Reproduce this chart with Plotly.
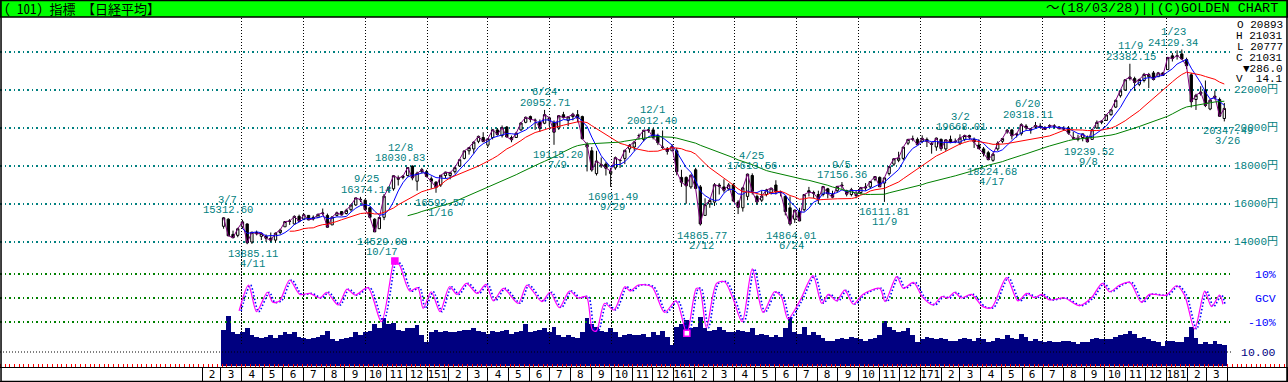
import pandas as pd
import plotly.graph_objects as go

# ======================= DATA (weekly) =======================
week_start_2014 = "2014-03-05"
open_2014 = [14826,15200,14400,14350,14800,14950,14000,14500,14300,14300,
             14200,14100,14500,14800,15100,14950,15350,15200,15400,15300,
             15300,15500,15400,14900,15400,15600,15500,15700,15950,16250,
             16200,15800,15200,14700,15300,16800,16800,17300,17400,17500,
             18000,17200,17700,17700]
high_2014 = [15312,15250,14600,14750,15170,14980,14530,14600,14500,14400,
             14500,14500,14700,15100,15200,15400,15440,15490,15420,15400,
             15490,15760,15500,15350,15600,15630,15750,15960,16330,16374,
             16250,15850,15250,15300,16530,16900,17520,17500,17520,17935,
             18030,17700,17900,17800]
low_2014 = [14700,14310,14200,14250,14700,13885,13900,14350,14100,14000,
            14000,13964,14400,14800,14900,14900,15050,15150,15150,15130,
            15300,15400,14750,14900,15350,15400,15450,15600,15900,16100,
            15650,15250,14529,14700,15150,16600,16700,16973,17300,17450,
            17250,16700,17600,17400]
close_2014 = [15274,14327,14224,14696,15063,13960,14516,14429,14457,14199,
              14096,14462,14632,15077,15097,15349,15095,15437,15164,15215,
              15457,15523,14778,15318,15539,15424,15668,15948,16321,16229,
              15708,15300,14532,15291,16413,16880,17490,17357,17459,17920,
              17371,17621,17818,17450]
volume_2014 = [26,36,24,23,24,27,22,21,20,21,
               22,20,22,24,23,24,21,20,19,20,
               21,22,25,19,18,19,20,21,24,22,
               24,25,30,27,34,30,31,26,25,27,
               27,29,22,17]

week_start_2015 = "2015-01-07"
open_2015 = [17325,17150,17000,17500,17500,17700,18000,18400,18800,18900,
             19300,19500,19100,19500,19900,19600,20050,19500,19500,19900,
             20300,20600,20400,20300,20250,20400,20300,20000,20700,20400,
             20600,20700,20600,19000,18800,17600,18000,18100,17600,17900,
             18300,18400,18900,19000,19600,19400,19900,19900,19600,19000,
             18900,18800]
high_2015 = [17450,17200,17520,17700,17700,17980,18350,18800,18980,19300,
             19600,19780,19450,19950,20000,20133,20100,19600,19800,20300,
             20600,20655,20500,20450,20952,20600,20400,20680,20850,20600,
             20800,20946,20650,19250,19000,18800,18450,18200,17900,18500,
             18350,18850,19150,19300,19700,19900,19950,20012,19700,19870,
             19000,19150]
low_2015 = [16808,16592,16900,17350,17300,17600,17950,18350,18600,18650,
            19200,19250,19000,19400,19600,19500,19500,19250,19500,19850,
            20250,20300,19900,19800,20200,20100,19115,19900,20500,20100,
            20400,20300,19400,17714,17700,17500,17900,17500,16901,17800,
            17900,18100,18700,18800,19400,19300,19750,19400,19100,18900,
            18600,18800]
close_2015 = [17197,16864,17511,17674,17648,17913,18332,18797,18971,19254,
              19560,19286,19435,19908,19653,20020,19531,19379,19733,20264,
              20563,20461,20407,19990,20706,20539,19780,20650,20544,20585,
              20724,20519,19435,19136,17792,18264,18070,17880,17725,18438,
              18291,18825,19083,19265,19597,19879,19883,19504,19230,18986,
              18769,19033]
volume_2015 = [24,26,24,25,24,24,25,26,26,27,
               25,24,23,25,24,25,26,23,24,25,
               30,24,25,26,27,24,28,22,21,22,
               21,20,24,34,30,28,25,24,27,24,
               21,22,23,22,22,23,21,24,22,25,
               21,15]

week_start_2016 = "2016-01-06"
open_2016 = [18800,17400,17400,16900,17800,16900,15400,16000,16100,17000,
             16900,16800,17000,16100,15800,16400,17500,16400,16200,16500,
             16600,17000,16600,16400,15800,15200,15600,15700,16700,16600,
             16500,16500,16800,16500,16700,17000,16700,16500,16500,16600,
             16900,16900,17300,17400,17100,17600,18100,18300,18400,19200,
             19400,19400]
high_2016 = [18950,17800,17450,17550,17900,17000,16300,16250,17100,17100,
             17300,17100,17100,16200,16900,17600,17613,16500,16700,16800,
             16850,17250,16700,16450,16400,15700,15800,16500,16900,16700,
             16700,16950,16850,16700,16950,17156,16750,16850,16700,16900,
             17100,17200,17450,17450,17400,17990,18400,18750,19000,19400,
             19600,19500]
low_2016 = [17509,16900,16017,16800,16800,14865,15400,15800,15900,16500,
            16600,16700,16100,15471,15600,16200,16500,15975,16100,16400,
            16500,16500,16400,15400,14864,15000,15100,15600,16400,16300,
            16000,16400,16300,16300,16600,16800,16400,16400,16300,16500,
            16700,16800,17200,16900,16111,17500,18000,18200,18300,19100,
            19300,19100]
close_2016 = [17697,17147,16958,17518,16819,14952,15967,16188,17014,16938,
              16724,17002,16164,15821,16848,17572,16666,16106,16412,16736,
              16834,16642,16601,15599,14952,15682,15106,16497,16627,16569,
              16254,16919,16545,16360,16925,16965,16519,16754,16450,16860,
              16856,17184,17446,16905,17374,17967,18381,18426,18996,19401,
              19427,19114]
volume_2016 = [28,30,33,27,28,35,27,25,26,28,
               26,24,24,26,25,24,27,22,23,22,
               21,22,21,27,35,24,23,28,22,24,
               22,20,18,18,19,20,19,21,20,19,
               18,19,20,22,32,28,26,24,25,27,
               22,17]

week_start_2017 = "2017-01-04"
open_2017 = [19300,19400,19200,19000,19400,18900,19400,19300,19200,19400,
             19600,19400,19100,18900,18700,18300,18900,19300,19800,19900,
             19650,19700,20100,19900,20050,20100,20000,20100,20100,20050,
             19950,20000,19500,19400,19500,19500,19400,20000,20300,20400,
             20700,21100,21700,22000,22600,22600,22300,22500,22700,22900,
             22700,22900]
high_2017 = [19615,19500,19250,19500,19450,19400,19600,19450,19668,19650,
             19650,19500,19400,19000,18800,18700,19300,19450,19950,19950,
             19750,20250,20200,20000,20318,20250,20100,20200,20200,20100,
             20100,20100,19800,19650,19700,19600,19950,20400,20400,20700,
             21000,21500,22000,22550,23382,22700,22600,22900,22900,23000,
             22950,22950]
low_2017 = [19200,19000,18650,18800,18800,18800,19200,19200,19100,19300,
            19400,18950,18900,18500,18300,18224,18800,19200,19700,19400,
            19500,19600,19900,19700,20000,20000,19900,20050,19990,19950,
            19850,19650,19400,19300,19300,19239,19400,19950,20200,20380,
            20650,21050,21600,21950,22500,21972,22200,22400,22100,22500,
            22700,22750]
close_2017 = [19454,19287,19137,19467,18918,19378,19235,19283,19469,19604,
              19521,19262,18909,18664,18335,18620,19197,19445,19883,19590,
              19686,20177,20013,19943,20132,20033,19929,20118,20099,19959,
              19952,19729,19470,19452,19691,19274,19909,20296,20356,20690,
              20954,21457,21955,22539,22681,22397,22551,22819,22811,22553,
              22902,22765]
volume_2017 = [19,21,20,19,20,19,18,18,19,20,
               19,18,20,19,17,18,20,19,22,20,
               19,23,21,18,19,18,17,18,17,17,
               18,18,17,16,17,17,19,20,19,19,
               19,21,22,23,25,23,20,21,19,18,
               17,14]

week_start_2018 = "2018-01-03"
open_2018 = [23073,23800,23800,23900,23600,22800,21500,21800,22000,21000,21600,21500,20500]
high_2018 = [23730,23950,24084,24129,23700,22900,21800,22200,22500,21500,21970,21600,21317]
low_2018 = [23073,23500,23600,23600,23100,21078,20950,21700,21100,20937,21500,20600,20347]
close_2018 = [23715,23653,23808,23632,23275,21383,21720,21892,21182,21469,21676,20618,21031]
volume_2018 = [18,18,17,17,21,28,20,16,17,16,18,16,15]

# GCV oscillator (%)
gcv_dates = ["2014-03-28","2014-04-11","2014-04-23","2014-05-09","2014-05-17","2014-05-27","2014-06-11","2014-06-26","2014-07-11","2014-07-26",
             "2014-08-05","2014-08-22","2014-09-04","2014-09-16","2014-10-05","2014-10-25","2014-11-11","2014-11-14","2014-11-21","2014-12-06",
             "2014-12-18","2014-12-26",
             "2015-01-07","2015-01-20","2015-02-03","2015-02-14","2015-02-28","2015-03-16","2015-03-29","2015-04-09","2015-04-24","2015-05-16",
             "2015-05-29","2015-06-20","2015-07-02","2015-07-16","2015-07-31","2015-08-13","2015-08-25","2015-09-03","2015-09-09","2015-09-21",
             "2015-10-05","2015-10-21","2015-10-29","2015-11-10","2015-11-30","2015-12-19",
             "2016-01-05","2016-01-21","2016-02-04","2016-02-09","2016-02-19","2016-03-05","2016-03-17","2016-03-29","2016-04-12","2016-04-27",
             "2016-05-13","2016-05-30","2016-06-09","2016-06-19","2016-07-06","2016-07-26","2016-08-08","2016-08-18","2016-08-30","2016-09-11",
             "2016-09-24","2016-10-08","2016-11-02","2016-11-10","2016-11-27","2016-12-07","2016-12-22",
             "2017-01-04","2017-01-20","2017-02-02","2017-02-11","2017-02-21","2017-03-03","2017-03-18","2017-04-04","2017-04-17","2017-05-09",
             "2017-05-26","2017-06-08","2017-06-20","2017-06-30","2017-07-12","2017-08-03","2017-08-25","2017-09-12","2017-09-28","2017-10-09",
             "2017-10-24","2017-11-08","2017-11-25","2017-12-07",
             "2018-01-01","2018-01-16","2018-01-28","2018-02-12","2018-02-27","2018-03-09","2018-03-21","2018-03-26"]
gcv_values = [-5.4,5.4,-5.7,2.4,-1.8,-1.2,7.5,1.5,1.9,0.0,
              2.4,-2.9,3.7,1.2,4.3,-9.9,13.7,15.4,13.7,2.9,
              4.3,-4.3,
              2.6,-5.7,4.7,1.5,6.1,1.9,5.7,-1.2,4.0,-2.2,
              5.4,-1.5,2.4,-4.0,2.9,0.0,0.6,-13.3,-13.7,-2.2,
              -5.0,4.7,2.9,5.4,4.7,-6.0,
              -1.2,-14.7,4.0,3.7,-12.4,6.1,6.8,0.1,-9.9,12.1,
              -6.0,2.6,0.6,-8.7,-1.5,9.3,-2.2,1.5,-1.2,3.3,
              -2.6,1.5,4.0,-1.5,8.9,4.0,6.5,
              0.6,-2.9,0.6,0.0,2.4,0.0,1.5,-3.6,-4.0,8.5,
              -1.2,1.9,0.1,1.5,-0.8,0.0,-3.2,0.1,6.1,2.6,
              5.4,6.5,-1.8,1.5,
              1.2,5.1,1.2,-12.9,2.9,-3.6,1.2,-2.6]

# labelled highs / lows
hl_dates = ["2014-03-07","2014-04-11","2014-09-25","2014-10-17","2014-12-08","2015-01-16","2015-06-24","2015-07-09",
            "2015-09-29","2015-12-01","2016-02-12","2016-04-25","2016-06-24","2016-09-05","2016-11-09","2017-03-02",
            "2017-04-17","2017-06-20","2017-09-08","2017-11-09","2018-01-23","2018-03-26"]
hl_values = [15312.60,13885.11,16374.14,14529.08,18030.83,16592.57,20952.71,19115.20,
             16901.49,20012.40,14865.77,17613.56,14864.01,17156.36,16111.81,19668.01,
             18224.68,20318.11,19239.52,23382.15,24129.34,20347.49]
hl_kind = ["H","L","H","L","H","L","H","L","L","H","L","H","L","H","L","H","L","H","L","H","H","L"]

# last bar summary
last_fields = ["O", "H", "L", "C"]
last_values = [20893, 21031, 20777, 21031]
last_change = -286.0
last_volume = 14.1
last_date_text = "～(18/03/28)"

price_grid = [14000, 16000, 18000, 20000, 22000, 24000]
price_labels = [14000, 16000, 18000, 20000, 22000]
gcv_grid = [-10, 0, 10]
gcv_grid_text = ["-10%", "GCV", "10%"]
volume_ref = 10.0

# ======================= STYLE / LAYOUT =======================
W, H = 1288, 382
TEAL = "#008080"
label_nudge = [3, 4, 5, 6, -11, 3, 0, 3, 3, 0, 0, 1, 0, 1, 0, 0, 0, -7, 0, 0, -8, 5]

def P(py):  # pixel row -> paper y
    return 1 - py / H

# calibration of the time axis from the month cells of the bottom strip
d0, d1 = pd.Timestamp("2014-02-01"), pd.Timestamp("2018-04-01")
PX0, PX1 = 202, 1227
ppd = (PX1 - PX0) / (d1 - d0).days
def px2date(px):
    return d0 + pd.Timedelta(days=(px - PX0) / ppd)

# price axis calibration: 14000 at row 242, 2000 per 38 px
def row2price(py):
    return 14000 + (242 - py) * 2000 / 38

# ---------- assemble weekly series ----------
blocks = [
    (week_start_2014, open_2014, high_2014, low_2014, close_2014, volume_2014),
    (week_start_2015, open_2015, high_2015, low_2015, close_2015, volume_2015),
    (week_start_2016, open_2016, high_2016, low_2016, close_2016, volume_2016),
    (week_start_2017, open_2017, high_2017, low_2017, close_2017, volume_2017),
    (week_start_2018, open_2018, high_2018, low_2018, close_2018, volume_2018),
]
dates, opens, highs, lows, closes, vols = [], [], [], [], [], []
for start, o, h, l, c, v in blocks:
    n = min(len(o), len(h), len(l), len(c), len(v))
    dates += list(pd.date_range(start, periods=n, freq="7D"))
    opens += o[:n]; highs += h[:n]; lows += l[:n]; closes += c[:n]; vols += v[:n]

s_close = pd.Series(closes, index=dates)
ma_short = s_close.rolling(5).mean()
ma_mid = s_close.rolling(15).mean()
ma_long = s_close.rolling(40).mean()

ng = min(len(gcv_dates), len(gcv_values))
g_dates = pd.to_datetime(gcv_dates[:ng])
g_vals = gcv_values[:ng]

fig = go.Figure()

# volume (y2) - drawn below GCV
fig.add_trace(go.Bar(x=dates, y=vols, marker=dict(color="#000080", line=dict(width=0)),
                     xaxis="x", yaxis="y2", hoverinfo="skip"))

# price candles
fig.add_trace(go.Candlestick(
    x=dates, open=opens, high=highs, low=lows, close=closes,
    increasing=dict(line=dict(color="black", width=1), fillcolor="white"),
    decreasing=dict(line=dict(color="black", width=1), fillcolor="black"),
    whiskerwidth=0, xaxis="x", yaxis="y"))
fig.add_trace(go.Scatter(x=dates, y=closes, mode="lines", line=dict(color="#800080", width=1),
                         xaxis="x", yaxis="y"))
fig.add_trace(go.Scatter(x=dates, y=ma_short, mode="lines", line=dict(color="#0000ff", width=1),
                         xaxis="x", yaxis="y"))
fig.add_trace(go.Scatter(x=dates, y=ma_mid, mode="lines", line=dict(color="#ff0000", width=1),
                         xaxis="x", yaxis="y"))
fig.add_trace(go.Scatter(x=dates, y=ma_long, mode="lines", line=dict(color="#008000", width=1),
                         xaxis="x", yaxis="y"))

# GCV (y3)
fig.add_trace(go.Scatter(x=g_dates + pd.Timedelta(days=3), y=g_vals, mode="lines",
                         line=dict(color="#0000ff", width=1.6, dash="1.5px,2px", shape="spline", smoothing=0.8),
                         xaxis="x", yaxis="y3"))
fig.add_trace(go.Scatter(x=g_dates, y=g_vals, mode="lines",
                         line=dict(color="#ff00ff", width=1.2, shape="spline", smoothing=0.8),
                         xaxis="x", yaxis="y3"))
clip_x = [d for d, v in zip(g_dates, g_vals) if abs(v) >= 14.5]
clip_y = [v for v in g_vals if abs(v) >= 14.5]
fig.add_trace(go.Scatter(x=clip_x, y=clip_y, mode="markers",
                         marker=dict(symbol="square", size=6,
                                     color=["#ff00ff" if v > 0 else "white" for v in clip_y],
                                     line=dict(color="#ff00ff", width=1.5)),
                         xaxis="x", yaxis="y3"))

# bottom month strip
month_starts = pd.date_range("2014-02-01", "2018-03-01", freq="MS")
month_mid = [m + pd.Timedelta(days=15) for m in month_starts]
month_text = [(f"{m.year % 100}{m.month}" if m.month == 1 else str(m.month)) for m in month_starts]
fig.add_trace(go.Scatter(x=month_mid, y=[0.45] * len(month_mid), mode="text", text=month_text,
                         textfont=dict(family="DejaVu Sans Mono", size=11, color="black"),
                         xaxis="x2", yaxis="y4"))

quarter_starts = [m for m in pd.date_range("2014-04-01", "2018-03-01", freq="MS") if m.month in (1, 4, 7, 10)]

ann = []
mono = "Liberation Mono, DejaVu Sans Mono, monospace"
for d, v, k, nx in zip(hl_dates, hl_values, hl_kind, label_nudge):
    ts = pd.Timestamp(d)
    dt = f"{ts.month}/{ts.day}"
    if k == "H":
        pairs = [(f"{v:.2f}", 7), (dt, 17.5)]
    else:
        pairs = [(f"{v:.2f}", -10), (dt, -20)]
    for txt, ys in pairs:
        ann.append(dict(x=ts, y=v, xref="x", yref="y", text=txt, showarrow=False,
                        xanchor="center", yanchor="middle", xshift=nx, yshift=ys,
                        font=dict(family=mono, size=10.5, color=TEAL)))

for p in price_labels:
    ann.append(dict(x=1280 / W, y=p, xref="paper", yref="y", text=f"{p}円", showarrow=False,
                    xanchor="right", yanchor="middle",
                    font=dict(family="Liberation Mono, Noto Sans CJK JP", size=11, color=TEAL)))
for g, t in zip(gcv_grid, gcv_grid_text):
    ann.append(dict(x=1278 / W, y=g, xref="paper", yref="y3", text=t, showarrow=False,
                    xanchor="right", yanchor="middle",
                    font=dict(family=mono, size=11.5, color="#0000ff")))
ann.append(dict(x=1278 / W, y=volume_ref, xref="paper", yref="y2", text=f"{volume_ref:.2f}", showarrow=False,
                xanchor="right", yanchor="middle", font=dict(family=mono, size=11.5, color="#000080")))

summary = [f"{f} {v}" for f, v in zip(last_fields, last_values)]
summary.append(("▼" if last_change < 0 else "▲") + f"{abs(last_change):.1f}")
summary.append(f"V  {last_volume:.1f}")
for i, t in enumerate(summary):
    ann.append(dict(x=1285 / W, y=P(25 + i * 10.9), xref="paper", yref="paper", text=t, showarrow=False,
                    xanchor="right", yanchor="middle", font=dict(family=mono, size=11, color="black")))

# header
ann.append(dict(x=2 / W, y=P(8.5), xref="paper", yref="paper", text="( 101) 指標 【日経平均】", showarrow=False,
                xanchor="left", yanchor="middle",
                font=dict(family="Noto Sans Mono CJK JP, Noto Sans CJK JP", size=13, color="black")))
ann.append(dict(x=1280 / W, y=P(8.5), xref="paper", yref="paper",
                text=f"{last_date_text}||(C)GOLDEN CHART", showarrow=False,
                xanchor="right", yanchor="middle",
                font=dict(family="Liberation Mono, Noto Sans CJK JP", size=13.5, color="black")))

shapes = [
    dict(type="rect", xref="paper", yref="paper", x0=0, x1=1, y0=P(17), y1=1,
         fillcolor="#00ff00", line=dict(color="black", width=1.5), layer="below"),
    dict(type="line", xref="paper", yref="y2", x0=0, x1=1233 / W, y0=volume_ref, y1=volume_ref,
         line=dict(color="black", width=1, dash="1px,2px"), layer="above"),
    dict(type="rect", xref="paper", yref="paper", x0=0.0008, x1=0.9992, y0=0.0013, y1=0.9987,
         line=dict(color="black", width=1.5), fillcolor="rgba(0,0,0,0)", layer="above"),
]

fig.update_layout(
    width=W, height=H, margin=dict(l=0, r=0, t=0, b=0),
    paper_bgcolor="white", plot_bgcolor="rgba(0,0,0,0)", showlegend=False,
    bargap=0, annotations=ann, shapes=shapes,
    xaxis=dict(domain=[0, 1233 / W], range=[px2date(0), px2date(1233)], type="date",
               tickmode="array", tickvals=quarter_starts, showticklabels=False, ticks="",
               showgrid=True, gridcolor="black", griddash="1px,2px", gridwidth=1,
               zeroline=False, showline=False, rangeslider=dict(visible=False), anchor="y"),
    yaxis=dict(domain=[P(255), P(18)], range=[row2price(255), row2price(18)],
               tickmode="array", tickvals=price_grid, showticklabels=False, ticks="",
               showgrid=True, gridcolor=TEAL, griddash="1.5px,3px", gridwidth=1.2, zeroline=False, anchor="x"),
    yaxis2=dict(domain=[P(366), P(254)], range=[0, 80], showgrid=False, showticklabels=False,
                ticks="", zeroline=False, anchor="x"),
    yaxis3=dict(domain=[P(346), P(250)], range=[-20, 20], tickmode="array", tickvals=gcv_grid,
                showticklabels=False, ticks="", showgrid=True, gridcolor="#008000", griddash="1.5px,3px",
                gridwidth=1.2, zeroline=False, anchor="x"),
    xaxis2=dict(domain=[0, 1287 / W], range=[px2date(0), px2date(1287)], type="date", anchor="y4",
                side="top", tickmode="array", tickvals=list(month_starts) + [pd.Timestamp("2018-04-01")],
                showticklabels=False, ticks="", showgrid=True, gridcolor="black", gridwidth=1,
                showline=True, linecolor="black", linewidth=1, mirror=True, zeroline=False,
                minor=dict(ticks="outside", ticklen=3, tickcolor="red", tickwidth=1,
                           dtick=7 * 86400000, tick0="2014-01-06", showgrid=False)),
    yaxis4=dict(domain=[P(381), P(367.5)], range=[0, 1], anchor="x2", showline=True, mirror=True,
                linecolor="black", linewidth=1, showgrid=False, showticklabels=False, ticks="",
                zeroline=False),
)

fig.write_html("out.html", config={"displayModeBar": False, "staticPlot": True},
               post_script="document.body.style.margin='0';document.body.style.padding='0';"
                           "document.body.style.overflow='hidden';")
